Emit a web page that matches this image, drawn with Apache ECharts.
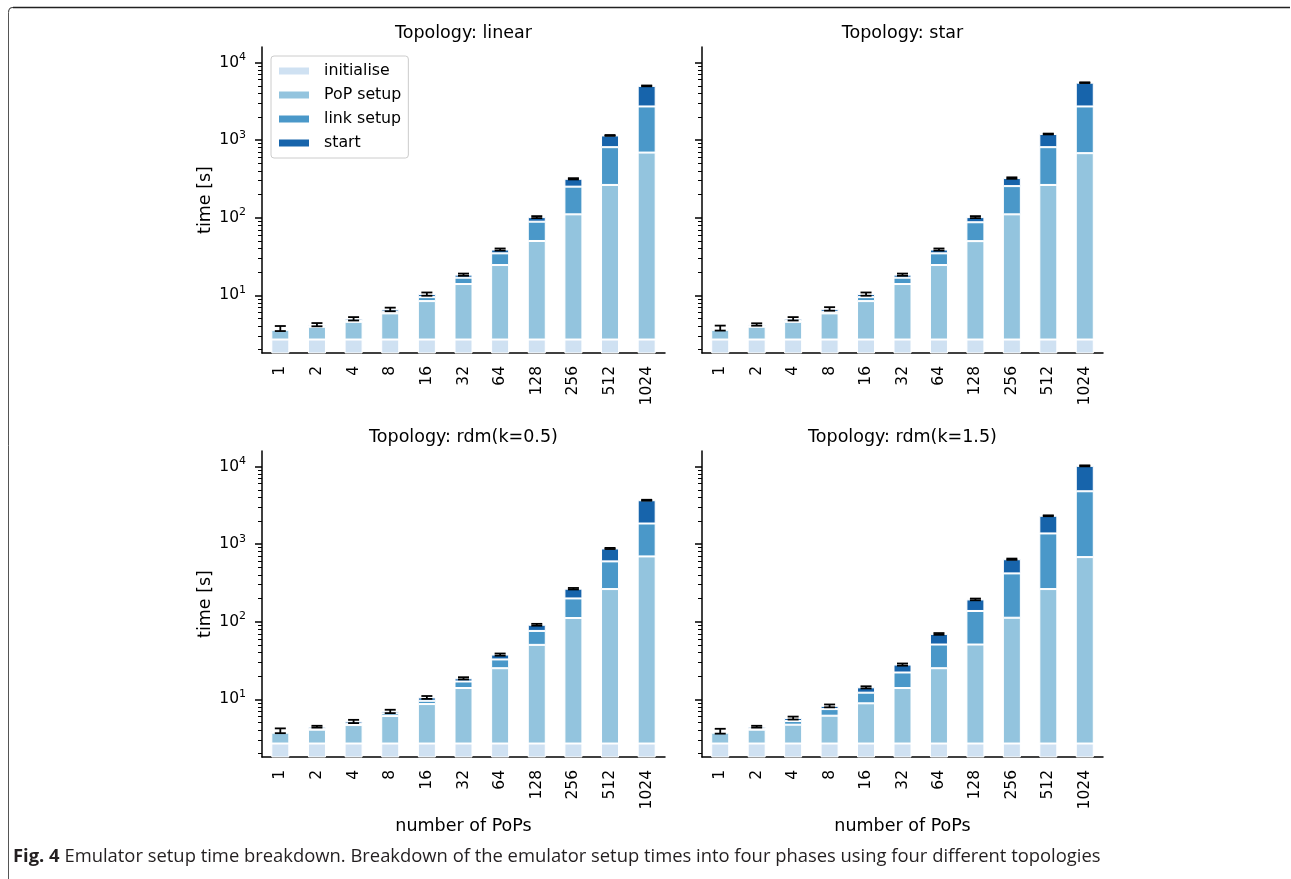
<!DOCTYPE html>
<html>
<head>
<meta charset="utf-8">
<script src="https://cdn.jsdelivr.net/npm/echarts@6/dist/echarts.min.js"></script>
<style>
  html, body { margin: 0; padding: 0; background: #fff; }
  #chart { width: 1291px; height: 879px; }
</style>
</head>
<body>
<div id="chart"></div>
<script>
// ---- data -------------------------------------------------------------
const categories = ['1', '2', '4', '8', '16', '32', '64', '128', '256', '512', '1024'];
const phaseNames = ['initialise', 'PoP setup', 'link setup', 'start'];
const topologyTitles = ['Topology: linear', 'Topology: star', 'Topology: rdm(k=0.5)', 'Topology: rdm(k=1.5)'];

// seconds spent in each setup phase, per number of PoPs
const linearInitialise = [2.7, 2.7, 2.7, 2.7, 2.7, 2.7, 2.7, 2.7, 2.7, 2.7, 2.7];
const linearPopSetup   = [0.9, 1.24, 1.86, 3.16, 5.74, 11.3, 21.9, 47.5, 108, 262, 689];
const linearLinkSetup  = [0.06, 0.08, 0.12, 0.29, 1.06, 2.9, 10.2, 38.8, 141, 547, 2024];
const linearStart      = [0.09, 0.18, 0.32, 0.45, 0.9, 1.6, 4.2, 13, 66, 338, 2284];
const linearError      = [0.28, 0.2, 0.25, 0.35, 0.5, 0.6, 1.2, 3, 6, 15, 60];

const starInitialise = [2.7, 2.7, 2.7, 2.7, 2.7, 2.7, 2.7, 2.7, 2.7, 2.7, 2.7];
const starPopSetup   = [0.9, 1.24, 1.86, 3.16, 5.74, 11.3, 21.9, 47.3, 108, 262, 677];
const starLinkSetup  = [0.06, 0.08, 0.12, 0.29, 1.06, 2.9, 10.2, 37.5, 145, 547, 2036];
const starStart      = [0.14, 0.2, 0.32, 0.55, 0.9, 1.6, 4.2, 14.5, 69, 388, 2784];
const starError      = [0.28, 0.15, 0.25, 0.35, 0.5, 0.6, 1.2, 3, 7, 15, 60];

const rdm05Initialise = [2.7, 2.7, 2.7, 2.7, 2.7, 2.7, 2.7, 2.7, 2.7, 2.7, 2.7];
const rdm05PopSetup   = [1.02, 1.37, 1.97, 3.4, 6.0, 11.3, 22.5, 47.7, 109, 261, 692];
const rdm05LinkSetup  = [0.08, 0.13, 0.18, 0.5, 0.9, 3.0, 7.5, 25.8, 88, 336, 1150];
const rdm05Start      = [0.15, 0.25, 0.35, 0.4, 1.0, 1.7, 5.1, 15.3, 67, 280, 1835];
const rdm05Error      = [0.28, 0.12, 0.25, 0.35, 0.45, 0.6, 1.2, 2.5, 6, 15, 50];

const rdm15Initialise = [2.7, 2.7, 2.7, 2.7, 2.7, 2.7, 2.7, 2.7, 2.7, 2.7, 2.7];
const rdm15PopSetup   = [1.02, 1.37, 2.02, 3.46, 6.2, 11.3, 22.5, 48.2, 110, 261, 678];
const rdm15LinkSetup  = [0.08, 0.13, 0.54, 1.34, 3.3, 8.2, 25.7, 86.8, 307, 1110, 4119];
const rdm15Start      = [0.1, 0.25, 0.49, 0.75, 2.1, 5.9, 18.8, 56.3, 220, 946, 5400];
const rdm15Error      = [0.28, 0.12, 0.25, 0.35, 0.45, 0.9, 1.8, 5, 12, 30, 150];

// y axis tick values (log scale)
const majorTicks = [10, 100, 1000, 10000];
const minorTicks = [2, 3, 4, 5, 6, 7, 8, 9,
                    20, 30, 40, 50, 60, 70, 80, 90,
                    200, 300, 400, 500, 600, 700, 800, 900,
                    2000, 3000, 4000, 5000, 6000, 7000, 8000, 9000];

const captionBold = 'Fig. 4';
const captionText = ' Emulator setup time breakdown. Breakdown of the emulator setup times into four phases using four different topologies';

// ---- styling ----------------------------------------------------------
const FONT = 'DejaVu Sans';
const phaseColors = ['#cfe1f2', '#93c4de', '#4a98c9', '#1764ab'];
const Y_MIN = 1.81;
const Y_MAX = 15849;

const panels = [
  [linearInitialise, linearPopSetup, linearLinkSetup, linearStart, linearError],
  [starInitialise, starPopSetup, starLinkSetup, starStart, starError],
  [rdm05Initialise, rdm05PopSetup, rdm05LinkSetup, rdm05Start, rdm05Error],
  [rdm15Initialise, rdm15PopSetup, rdm15LinkSetup, rdm15Start, rdm15Error]
];

const gridBoxes = [
  { left: 262, top: 47, width: 403, height: 306 },
  { left: 702, top: 47, width: 401, height: 306 },
  { left: 262, top: 451, width: 403, height: 306 },
  { left: 702, top: 451, width: 401, height: 306 }
];

const chart = echarts.init(document.getElementById('chart'), null, { renderer: 'canvas' });

const grid = gridBoxes.map(b => Object.assign({ containLabel: false }, b));
const xAxis = [];
const yAxis = [];
const series = [];

gridBoxes.forEach((box, i) => {
  xAxis.push({
    type: 'category',
    gridIndex: i,
    data: categories,
    boundaryGap: true,
    axisLine: { onZero: false, lineStyle: { color: '#000', width: 1.5 } },
    axisTick: { alignWithLabel: true, length: 6, lineStyle: { color: '#000', width: 1.5 } },
    axisLabel: { interval: 0, rotate: 90, margin: 13, fontSize: 15.5, color: '#000', fontFamily: FONT },
    splitLine: { show: false }
  });

  // main log axis with decade ticks and labels
  yAxis.push({
    type: 'log',
    logBase: 10,
    gridIndex: i,
    position: 'left',
    min: Y_MIN,
    max: Y_MAX,
    axisLine: { show: true, lineStyle: { color: '#000', width: 1.5 } },
    axisTick: { show: true, length: 7, customValues: majorTicks, lineStyle: { color: '#000', width: 1.5 } },
    axisLabel: {
      show: i % 2 === 0,
      customValues: majorTicks,
      margin: 16,
      formatter: v => '{b|10}{s|' + Math.round(Math.log10(v)) + '}',
      rich: {
        b: { fontSize: 15.5, fontFamily: FONT, color: '#000', lineHeight: 22 },
        s: { fontSize: 11, fontFamily: FONT, color: '#000', lineHeight: 10, verticalAlign: 'top' }
      }
    },
    splitLine: { show: false }
  });

  // companion axis carrying the minor ticks
  yAxis.push({
    type: 'log',
    logBase: 10,
    gridIndex: i,
    position: 'left',
    min: Y_MIN,
    max: Y_MAX,
    axisLine: { show: false },
    axisTick: { show: true, length: 4, customValues: minorTicks, lineStyle: { color: '#000', width: 1 } },
    axisLabel: { show: false },
    splitLine: { show: false }
  });

  const p = panels[i];
  for (let k = 0; k < 4; k++) {
    series.push({
      name: phaseNames[k],
      type: 'bar',
      xAxisIndex: i,
      yAxisIndex: 2 * i,
      stack: 'panel' + i,
      barWidth: 18,
      clip: true,
      itemStyle: { color: phaseColors[k], borderColor: '#fff', borderWidth: 1 },
      emphasis: { disabled: true },
      data: p[k]
    });
  }

  // error bars around the stacked totals
  const errData = categories.map((c, j) => {
    const total = p[0][j] + p[1][j] + p[2][j] + p[3][j];
    return [j, total - p[4][j], total + p[4][j]];
  });
  series.push({
    type: 'custom',
    xAxisIndex: i,
    yAxisIndex: 2 * i,
    z: 10,
    clip: false,
    silent: true,
    encode: { x: 0, y: [1, 2] },
    data: errData,
    renderItem: (params, api) => {
      const x = api.value(0);
      const lo = api.coord([x, api.value(1)]);
      const hi = api.coord([x, api.value(2)]);
      const hw = 5.5;
      const st = { stroke: '#000', lineWidth: 1.8, fill: null };
      return {
        type: 'group',
        children: [
          { type: 'line', shape: { x1: lo[0], y1: lo[1], x2: hi[0], y2: hi[1] }, style: st },
          { type: 'line', shape: { x1: lo[0] - hw, y1: lo[1], x2: lo[0] + hw, y2: lo[1] }, style: st },
          { type: 'line', shape: { x1: hi[0] - hw, y1: hi[1], x2: hi[0] + hw, y2: hi[1] }, style: st }
        ]
      };
    }
  });
});

// titles, axis names, caption and frame
const graphic = [];
gridBoxes.forEach((box, i) => {
  const cx = box.left + box.width / 2;
  graphic.push({
    type: 'text', x: cx, y: box.top - 14,
    style: { text: topologyTitles[i], fontSize: 17.5, fontFamily: FONT, fill: '#000', align: 'center', verticalAlign: 'middle' }
  });
  if (i % 2 === 0) {
    graphic.push({
      type: 'text', x: 205, y: box.top + 153, rotation: Math.PI / 2,
      style: { text: 'time [s]', fontSize: 17.5, fontFamily: FONT, fill: '#000', align: 'center', verticalAlign: 'middle' }
    });
  }
  if (i >= 2) {
    graphic.push({
      type: 'text', x: cx, y: 826,
      style: { text: 'number of PoPs', fontSize: 17.5, fontFamily: FONT, fill: '#000', align: 'center', verticalAlign: 'middle' }
    });
  }
});
graphic.push({
  type: 'text', x: 13, y: 857,
  style: {
    text: '{b|' + captionBold + '}' + captionText,
    rich: { b: { fontWeight: 'bold', fontSize: 18.4, fontFamily: 'Open Sans', fill: '#231f20' } },
    fontSize: 18.4, fontFamily: 'Open Sans', fill: '#231f20', align: 'left', verticalAlign: 'middle'
  }
});
// figure frame: top edge, rounded corner, left edge
graphic.push({
  type: 'line',
  shape: { x1: 13, y1: 7.5, x2: 1290, y2: 7.5 },
  style: { stroke: '#222', lineWidth: 1.3 }
});
graphic.push({
  type: 'bezierCurve',
  shape: { x1: 8.5, y1: 12.5, x2: 13, y2: 7.5, cpx1: 8.5, cpy1: 7.5 },
  style: { stroke: '#444', lineWidth: 1.1, fill: null }
});
graphic.push({
  type: 'line',
  shape: { x1: 8.5, y1: 12.5, x2: 8.5, y2: 879 },
  style: { stroke: '#555', lineWidth: 1 }
});

chart.setOption({
  animation: false,
  backgroundColor: '#fff',
  grid: grid,
  xAxis: xAxis,
  yAxis: yAxis,
  legend: {
    data: phaseNames,
    orient: 'vertical',
    left: 271,
    top: 56,
    padding: [7, 7, 7, 6],
    itemGap: 8,
    itemWidth: 32,
    itemHeight: 9,
    icon: 'rect',
    selectedMode: false,
    backgroundColor: 'rgba(255,255,255,0.8)',
    borderColor: '#ccc',
    borderWidth: 1,
    borderRadius: 3,
    textStyle: { fontSize: 15.8, fontFamily: FONT, color: '#000', lineHeight: 16, padding: [0, 0, 0, 9] }
  },
  series: series,
  graphic: graphic
});
</script>
</body>
</html>
